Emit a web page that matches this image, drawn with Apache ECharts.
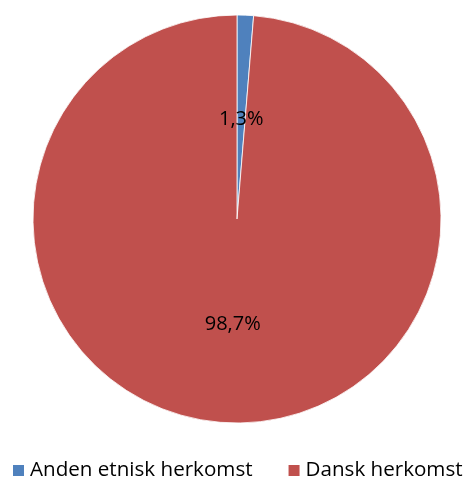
<!DOCTYPE html>
<html><head><meta charset="utf-8">
<script src="https://cdn.jsdelivr.net/npm/echarts@6/dist/echarts.min.js"></script>
<style>html,body{margin:0;padding:0;background:#fff}#c{width:472px;height:481px}</style>
</head><body><div id="c"></div>
<script>
const categories = ['Anden etnisk herkomst', 'Dansk herkomst'];
const values = [1.3, 98.7];
const colors = ['#4F81BD', '#C0504D'];

const chart = echarts.init(document.getElementById('c'), null, {renderer: 'canvas'});
chart.setOption({
  animation: false,
  color: colors,
  legend: {
    bottom: 0,
    left: 11,
    width: 500,
    padding: 0,
    itemWidth: 13,
    itemHeight: 13,
    itemGap: 34,
    icon: 'rect',
    textStyle: {fontFamily: 'Open Sans', fontSize: 20.6, color: '#000'},
    data: categories
  },
  series: [{
    type: 'pie',
    center: [237, 219],
    radius: [0, 204],
    startAngle: 90,
    clockwise: true,
    label: {
      show: true,
      position: 'inside',
      fontFamily: 'Open Sans',
      fontSize: 20,
      color: '#000',
      formatter: p => p.value.toFixed(1).replace('.', ',') + '%'
    },
    labelLayout: p => (p.dataIndex === 0 ? {dy: 5} : {}),
    labelLine: {show: false},
    itemStyle: {borderColor: '#ffffff', borderWidth: 0.8},
    emphasis: {disabled: true},
    data: categories.map((c, i) => ({name: c, value: values[i]}))
  }]
});
</script></body></html>
